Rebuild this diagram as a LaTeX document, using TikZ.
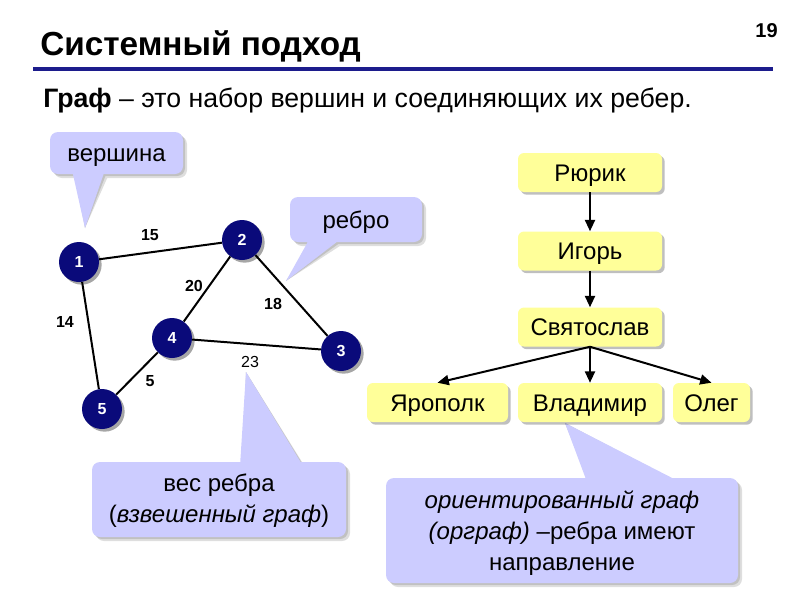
\documentclass[tikz,border=0pt]{standalone}
\usepackage{fontspec}
\setmainfont{Liberation Sans}
\usetikzlibrary{arrows.meta,shadows}
\definecolor{lav}{RGB}{204,204,255}
\definecolor{yel}{RGB}{255,255,153}
\definecolor{navy}{RGB}{10,10,122}
\definecolor{rulec}{RGB}{28,28,140}
\pgfdeclarelayer{shadowlayer}
\pgfdeclarelayer{background}
\pgfsetlayers{shadowlayer,background,main}
\begin{document}
\begin{tikzpicture}[x=0.75pt,y=-0.75pt,
  vert/.style={circle,fill=navy,minimum size=30pt,inner sep=0pt,text=white,
    font=\bfseries\fontsize{12}{14}\selectfont,
    drop shadow={shadow xshift=2pt,shadow yshift=-2pt,opacity=0.35,fill=black}},
  edge/.style={line width=1.5pt},
  wlab/.style={font=\bfseries\fontsize{12}{14}\selectfont,inner sep=0pt},
  tbox/.style={fill=yel,rounded corners=4.5pt,minimum height=29.25pt,minimum width=108pt,
    inner sep=0pt,text height=14pt,text depth=1.2pt,font=\fontsize{18}{22}\selectfont,
    drop shadow={shadow xshift=2pt,shadow yshift=-2pt,opacity=0.25,fill=black}},
  tarrow/.style={line width=1.5pt,-{Triangle[length=8.5pt,width=7.5pt]}},
  ctext/.style={align=center,font=\fontsize{18}{23}\selectfont,inner sep=0pt},
  cshadow/.style={fill=black,opacity=0.13},
  cfill/.style={fill=lav}
]
\useasboundingbox (0,0) rectangle (800,600);

% header
\node[anchor=base west,inner sep=0pt,font=\bfseries\fontsize{25}{30}\selectfont] (title) at (40,55) {Системный подход};
\node[anchor=base east,inner sep=0pt,font=\bfseries\fontsize{15}{18}\selectfont] (pnum) at (778,37) {19};
\coordinate (rl) at (33,69);
\coordinate (rr) at (773,69);
\draw[rulec,line width=2.4pt] (rl) -- (rr);
\node[anchor=base west,inner sep=0pt,font=\fontsize{20}{24}\selectfont] (sub) at (43,107) {{\bfseries Граф} – это набор вершин и соединяющих их ребер.};

% graph
\node[vert] (v1) at (79,262) {1};
\node[vert] (v2) at (242,240) {2};
\node[vert] (v3) at (341,351) {3};
\node[vert] (v4) at (172,338) {4};
\node[vert] (v5) at (102,409) {5};
\draw[edge] (v1) -- (v2);
\draw[edge] (v1) -- (v5);
\draw[edge] (v2) -- (v4);
\draw[edge] (v2) -- (v3);
\draw[edge] (v4) -- (v3);
\draw[edge] (v4) -- (v5);
\node[wlab] (w15) at (150,235) {15};
\node[wlab] (w20) at (194,286) {20};
\node[wlab] (w18) at (273,304) {18};
\node[wlab] (w14) at (65,322) {14};
\node[wlab] (w5) at (150,381) {5};
\node[inner sep=0pt,font=\fontsize{12}{14}\selectfont] (w23) at (250,362) {23};

% tree
\node[tbox] (rur) at (590,172.5) {Рюрик};
\node[tbox] (igo) at (590,251) {Игорь};
\node[tbox] (svy) at (590,327) {Святослав};
\node[tbox,minimum width=105.75pt] (yar) at (437.5,402.5) {Ярополк};
\node[tbox] (vla) at (590,402.5) {Владимир};
\node[tbox,minimum width=57.75pt] (ole) at (711.5,402.5) {Олег};
\draw[tarrow] (rur) -- (igo);
\draw[tarrow] (igo) -- (svy);
\draw[tarrow] (svy.south) -- (yar.north);
\draw[tarrow] (svy.south) -- (vla.north);
\draw[tarrow] (svy.south) -- (ole.north);

% callouts text
\node[ctext,text height=14pt,text depth=1.2pt] (cv) at (116.5,153) {вершина};
\node[ctext,text height=14pt,text depth=1.2pt] (ce) at (356,219.5) {ребро};
\node[ctext] (cw) at (219,501) {вес ребра\\(\textit{взвешенный граф})};
\node[ctext] (cd) at (562,533) {\textit{ориентированный граф}\\\textit{(орграф)} –ребра имеют\\направление};

\coordinate (tv) at (85,228);
\coordinate (te) at (286,281);
\coordinate (tw) at (246,372);
\coordinate (td) at (565,423);

\begin{pgfonlayer}{shadowlayer}
\foreach \s in {2,4}{
\fill[cshadow,shift={(\s,\s)}] [rounded corners=6pt] (50,132) rectangle (183,174) [sharp corners] (72,170) -- (tv) -- (105,170) -- cycle;
\fill[cshadow,shift={(\s,\s)}] [rounded corners=6pt] (290,197) rectangle (422,242) [sharp corners] (310,238) -- (te) -- (342,238) -- cycle;
\fill[cshadow,shift={(\s,\s)}] [rounded corners=6pt] (92,462) rectangle (346,537) [sharp corners] (303,466) -- (tw) -- (240,466) -- cycle;
\fill[cshadow,shift={(\s,\s)}] [rounded corners=6pt] (386,478) rectangle (738,583) [sharp corners] (680,482) -- (td) -- (587,482) -- cycle;
}
\end{pgfonlayer}
\begin{pgfonlayer}{background}
\fill[cfill] [rounded corners=6pt] (50,132) rectangle (183,174) [sharp corners] (72,170) -- (tv) -- (105,170) -- cycle;
\fill[cfill] [rounded corners=6pt] (290,197) rectangle (422,242) [sharp corners] (310,238) -- (te) -- (342,238) -- cycle;
\fill[cfill] [rounded corners=6pt] (92,462) rectangle (346,537) [sharp corners] (303,466) -- (tw) -- (240,466) -- cycle;
\fill[cfill] [rounded corners=6pt] (386,478) rectangle (738,583) [sharp corners] (680,482) -- (td) -- (587,482) -- cycle;
\end{pgfonlayer}
\end{tikzpicture}
\end{document}
